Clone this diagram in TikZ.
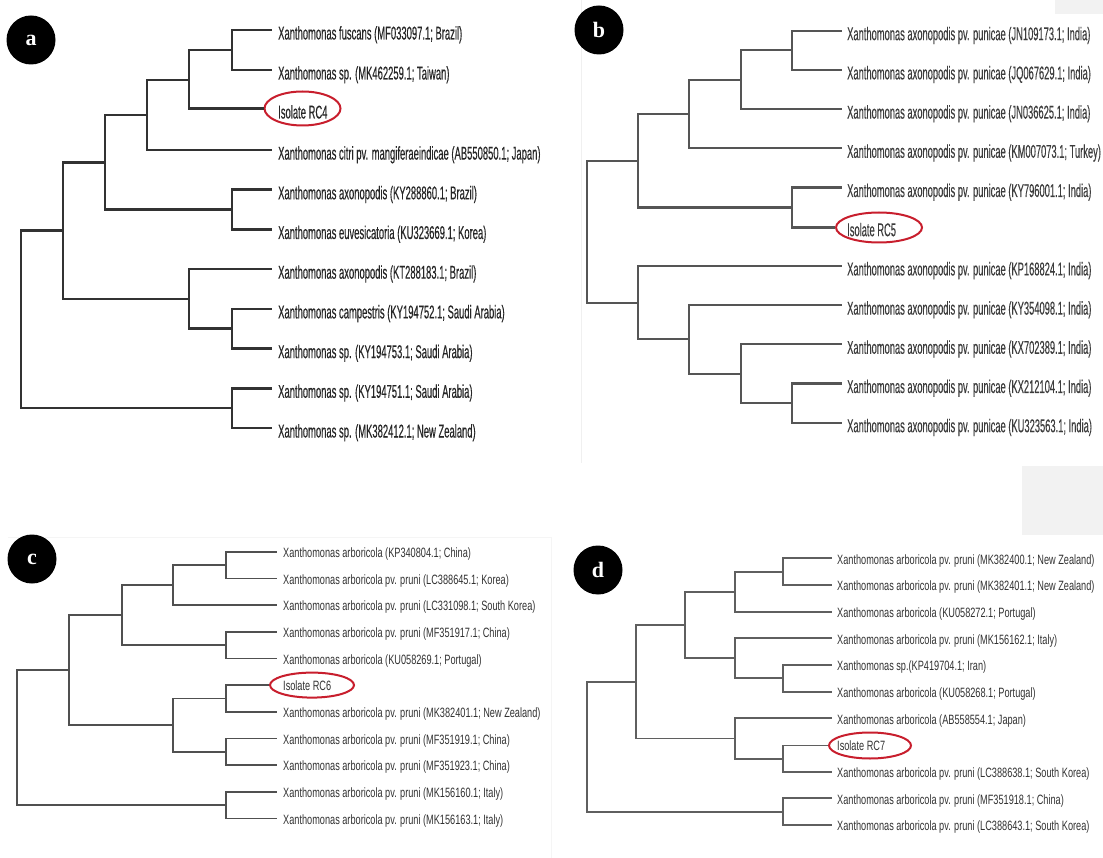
\documentclass[tikz,border=0pt]{standalone}
\usepackage{fontspec}
\setmainfont{Liberation Sans}
\newfontfamily\fA[FakeStretch=0.51,FakeBold=0.3]{Liberation Sans}
\newfontfamily\fB[FakeStretch=0.505,FakeBold=0.2]{Liberation Sans}
\newfontfamily\fC[FakeStretch=0.68]{Liberation Sans}
\newfontfamily\fL{Liberation Serif}
\usetikzlibrary{shapes.geometric}
\definecolor{isored}{RGB}{200,30,45}
\definecolor{txtA}{RGB}{38,38,38}
\definecolor{txtB}{RGB}{60,60,60}
\definecolor{txtC}{RGB}{50,50,50}
\tikzset{
  brA/.style={draw={rgb,255:red,50;green,50;blue,50}, line width=2.6pt},
  brB/.style={draw={rgb,255:red,85;green,85;blue,85}, line width=2.2pt},
  brC/.style={draw={rgb,255:red,80;green,80;blue,80}, line width=1.8pt},
  brD/.style={draw={rgb,255:red,95;green,95;blue,95}, line width=1.8pt},
  lblA/.style={anchor=base west, inner sep=0pt, text=txtA, font=\fA\fontsize{18.5}{18.5}\selectfont},
  lblB/.style={anchor=base west, inner sep=0pt, text=txtB, font=\fB\fontsize{18.5}{18.5}\selectfont},
  lblC/.style={anchor=base west, inner sep=0pt, text=txtC, font=\fC\fontsize{13.5}{13.5}\selectfont},
  badge/.style={circle, fill=black, text=white, minimum size=49pt, inner sep=0pt, font=\fL\bfseries\fontsize{22}{22}\selectfont},
  iso/.style={ellipse, draw=isored, line width=2pt, inner sep=0pt},
}
\begin{document}
\begin{tikzpicture}[x=1pt,y=-1pt]
\useasboundingbox (0,0) rectangle (1103,858);
\fill[white] (0,0) rectangle (1103,858);
\fill[gray!10] (1055,0) rectangle (1103,14);
\fill[gray!10] (1022,466) rectangle (1103,535);
\draw[gray!12, line width=0.8pt] (581,0) -- (581,463);
\draw[gray!8, line width=0.8pt] (8,537) -- (551,537) -- (551,858);

% ---------------- panel a ----------------
\node[badge] (ba) at (31,40) {a};
\coordinate (a1) at (272,30.0);
\coordinate (a2) at (272,70.0);
\node[iso, minimum width=76pt, minimum height=34pt] (ea) at (302.5,108.5) {};
\coordinate (a4) at (272,150.1);
\coordinate (a5) at (272,189.8);
\coordinate (a6) at (272,229.5);
\coordinate (a7) at (272,269.2);
\coordinate (a8) at (272,308.9);
\coordinate (a9) at (272,348.6);
\coordinate (a10) at (272,388.3);
\coordinate (a11) at (272,428.0);
\coordinate (a12) at (232,50.0);
\coordinate (a123) at (189,80.0);
\coordinate (a1234) at (147,115.0);
\coordinate (a56) at (232,209.65);
\coordinate (aA) at (105,162.3);
\coordinate (a89) at (232,328.75);
\coordinate (a789) at (189,299.0);
\coordinate (aB) at (63,230.65);
\coordinate (a1011) at (232,408.15);
\coordinate (aR) at (21,319.4);
\draw[brA] (a12) |- (a1);
\draw[brA] (a12) |- (a2);
\draw[brA] (a123) |- (a12);
\draw[brA] (a123) |- (ea.west);
\draw[brA] (a1234) |- (a123);
\draw[brA] (a1234) |- (a4);
\draw[brA] (a56) |- (a5);
\draw[brA] (a56) |- (a6);
\draw[brA] (aA) |- (a1234);
\draw[brA] (aA) |- (a56);
\draw[brA] (a89) |- (a8);
\draw[brA] (a89) |- (a9);
\draw[brA] (a789) |- (a7);
\draw[brA] (a789) |- (a89);
\draw[brA] (aB) |- (aA);
\draw[brA] (aB) |- (a789);
\draw[brA] (a1011) |- (a10);
\draw[brA] (a1011) |- (a11);
\draw[brA] (aR) |- (aB);
\draw[brA] (aR) |- (a1011);
\node[lblA] (ta1) at (278,39.5) {Xanthomonas fuscans (MF033097.1; Brazil)};
\node[lblA] (ta2) at (278,79.5) {Xanthomonas sp. (MK462259.1; Taiwan)};
\node[lblA] (ta3) at (278,118.5) {Isolate RC4};
\node[lblA] (ta4) at (278,159.6) {Xanthomonas citri pv. mangiferaeindicae (AB550850.1; Japan)};
\node[lblA] (ta5) at (278,199.3) {Xanthomonas axonopodis (KY288860.1; Brazil)};
\node[lblA] (ta6) at (278,239.0) {Xanthomonas euvesicatoria (KU323669.1; Korea)};
\node[lblA] (ta7) at (278,278.7) {Xanthomonas axonopodis (KT288183.1; Brazil)};
\node[lblA] (ta8) at (278,318.4) {Xanthomonas campestris (KY194752.1; Saudi Arabia)};
\node[lblA] (ta9) at (278,358.1) {Xanthomonas sp. (KY194753.1; Saudi Arabia)};
\node[lblA] (ta10) at (278,397.8) {Xanthomonas sp. (KY194751.1; Saudi Arabia)};
\node[lblA] (ta11) at (278,437.5) {Xanthomonas sp. (MK382412.1; New Zealand)};

% ---------------- panel b ----------------
\node[badge] (bb) at (599,30) {b};
\coordinate (b1) at (842,30.7);
\coordinate (b2) at (842,69.9);
\coordinate (b3) at (842,109.1);
\coordinate (b4) at (842,148.3);
\coordinate (b5) at (842,187.5);
\node[iso, minimum width=86pt, minimum height=30pt] (eb) at (879,227.5) {};
\coordinate (b7) at (842,265.9);
\coordinate (b8) at (842,305.1);
\coordinate (b9) at (842,344.3);
\coordinate (b10) at (842,383.5);
\coordinate (b11) at (842,422.7);
\coordinate (b12) at (792,50.3);
\coordinate (b123) at (741,79.7);
\coordinate (b1234) at (689,114.0);
\coordinate (b56) at (792,207.5);
\coordinate (bA) at (638,160.75);
\coordinate (b1011) at (792,403.1);
\coordinate (b911) at (741,373.7);
\coordinate (b811) at (689,339.4);
\coordinate (b711) at (638,302.65);
\coordinate (bR) at (587,231.7);
\draw[brB] (b12) |- (b1);
\draw[brB] (b12) |- (b2);
\draw[brB] (b123) |- (b12);
\draw[brB] (b123) |- (b3);
\draw[brB] (b1234) |- (b123);
\draw[brB] (b1234) |- (b4);
\draw[brB] (b56) |- (b5);
\draw[brB] (b56) |- (eb.west);
\draw[brB] (bA) |- (b1234);
\draw[brB] (bA) |- (b56);
\draw[brB] (b1011) |- (b10);
\draw[brB] (b1011) |- (b11);
\draw[brB] (b911) |- (b9);
\draw[brB] (b911) |- (b1011);
\draw[brB] (b811) |- (b8);
\draw[brB] (b811) |- (b911);
\draw[brB] (b711) |- (b7);
\draw[brB] (b711) |- (b811);
\draw[brB] (bR) |- (bA);
\draw[brB] (bR) |- (b711);
\node[lblB] (tb1) at (847,40.2) {Xanthomonas axonopodis pv. punicae (JN109173.1; India)};
\node[lblB] (tb2) at (847,79.4) {Xanthomonas axonopodis pv. punicae (JQ067629.1; India)};
\node[lblB] (tb3) at (847,118.6) {Xanthomonas axonopodis pv. punicae (JN036625.1; India)};
\node[lblB] (tb4) at (847,157.8) {Xanthomonas axonopodis pv. punicae (KM007073.1; Turkey)};
\node[lblB] (tb5) at (847,197.0) {Xanthomonas axonopodis pv. punicae (KY796001.1; India)};
\node[lblB] (tb6) at (847,236.2) {Isolate RC5};
\node[lblB] (tb7) at (847,275.4) {Xanthomonas axonopodis pv. punicae (KP168824.1; India)};
\node[lblB] (tb8) at (847,314.6) {Xanthomonas axonopodis pv. punicae (KY354098.1; India)};
\node[lblB] (tb9) at (847,353.8) {Xanthomonas axonopodis pv. punicae (KX702389.1; India)};
\node[lblB] (tb10) at (847,393.0) {Xanthomonas axonopodis pv. punicae (KX212104.1; India)};
\node[lblB] (tb11) at (847,432.2) {Xanthomonas axonopodis pv. punicae (KU323563.1; India)};

% ---------------- panel c ----------------
\node[badge] (bc) at (32,559) {c};
\coordinate (c1) at (277,551.7);
\coordinate (c2) at (277,578.4);
\coordinate (c3) at (277,605.0);
\coordinate (c4) at (277,631.7);
\coordinate (c5) at (277,658.4);
\node[iso, minimum width=84pt, minimum height=25pt] (ec) at (312,685.1) {};
\coordinate (c7) at (277,711.7);
\coordinate (c8) at (277,738.4);
\coordinate (c9) at (277,765.1);
\coordinate (c10) at (277,791.7);
\coordinate (c11) at (277,818.4);
\coordinate (c12) at (226,565.05);
\coordinate (c123) at (173,585.0);
\coordinate (c45) at (226,645.05);
\coordinate (c15) at (122,615.0);
\coordinate (c67) at (226,698.4);
\coordinate (c89) at (226,751.75);
\coordinate (c69) at (173,725.1);
\coordinate (cA) at (69,670.05);
\coordinate (c1011) at (226,805.05);
\coordinate (cR) at (17,737.55);
\draw[brC] (c12) |- (c1);
\draw[brC] (c12) |- (c2);
\draw[brC] (c123) |- (c12);
\draw[brC] (c123) |- (c3);
\draw[brC] (c45) |- (c4);
\draw[brC] (c45) |- (c5);
\draw[brC] (c15) |- (c123);
\draw[brC] (c15) |- (c45);
\draw[brC] (c67) |- (ec.west);
\draw[brC] (c67) |- (c7);
\draw[brC] (c89) |- (c8);
\draw[brC] (c89) |- (c9);
\draw[brC] (c69) |- (c67);
\draw[brC] (c69) |- (c89);
\draw[brC] (cA) |- (c15);
\draw[brC] (cA) |- (c69);
\draw[brC] (c1011) |- (c10);
\draw[brC] (c1011) |- (c11);
\draw[brC] (cR) |- (cA);
\draw[brC] (cR) |- (c1011);
\node[lblC] (tc1) at (283,557.5) {Xanthomonas arboricola (KP340804.1; China)};
\node[lblC] (tc2) at (283,584.2) {Xanthomonas arboricola pv. pruni (LC388645.1; Korea)};
\node[lblC] (tc3) at (283,610.8) {Xanthomonas arboricola pv. pruni (LC331098.1; South Korea)};
\node[lblC] (tc4) at (283,637.5) {Xanthomonas arboricola pv. pruni (MF351917.1; China)};
\node[lblC] (tc5) at (283,664.2) {Xanthomonas arboricola (KU058269.1; Portugal)};
\node[lblC] (tc6) at (283,690.9) {Isolate RC6};
\node[lblC] (tc7) at (283,717.5) {Xanthomonas arboricola pv. pruni (MK382401.1; New Zealand)};
\node[lblC] (tc8) at (283,744.2) {Xanthomonas arboricola pv. pruni (MF351919.1; China)};
\node[lblC] (tc9) at (283,770.9) {Xanthomonas arboricola pv. pruni (MF351923.1; China)};
\node[lblC] (tc10) at (283,797.5) {Xanthomonas arboricola pv. pruni (MK156160.1; Italy)};
\node[lblC] (tc11) at (283,824.2) {Xanthomonas arboricola pv. pruni (MK156163.1; Italy)};

% ---------------- panel d ----------------
\node[badge] (bd) at (598,570) {d};
\coordinate (d1) at (832,558.3);
\coordinate (d2) at (832,585.0);
\coordinate (d3) at (832,611.6);
\coordinate (d4) at (832,638.3);
\coordinate (d5) at (832,665.0);
\coordinate (d6) at (832,691.7);
\coordinate (d7) at (832,718.3);
\node[iso, minimum width=82pt, minimum height=26pt] (ed) at (870,745.5) {};
\coordinate (d9) at (832,771.7);
\coordinate (d10) at (832,798.3);
\coordinate (d11) at (832,825.0);
\coordinate (d12) at (783,571.65);
\coordinate (d123) at (735,591.6);
\coordinate (d56) at (783,678.35);
\coordinate (d456) at (735,658.3);
\coordinate (d16) at (685,624.95);
\coordinate (d89) at (783,758.6);
\coordinate (d79) at (735,738.45);
\coordinate (dA) at (636,681.7);
\coordinate (d1011) at (783,811.65);
\coordinate (dR) at (587,746.7);
\draw[brD] (d12) |- (d1);
\draw[brD] (d12) |- (d2);
\draw[brD] (d123) |- (d12);
\draw[brD] (d123) |- (d3);
\draw[brD] (d56) |- (d5);
\draw[brD] (d56) |- (d6);
\draw[brD] (d456) |- (d4);
\draw[brD] (d456) |- (d56);
\draw[brD] (d16) |- (d123);
\draw[brD] (d16) |- (d456);
\draw[brD] (d89) |- (ed.west);
\draw[brD] (d89) |- (d9);
\draw[brD] (d79) |- (d7);
\draw[brD] (d79) |- (d89);
\draw[brD] (dA) |- (d16);
\draw[brD] (dA) |- (d79);
\draw[brD] (d1011) |- (d10);
\draw[brD] (d1011) |- (d11);
\draw[brD] (dR) |- (dA);
\draw[brD] (dR) |- (d1011);
\node[lblC] (td1) at (837,564.1) {Xanthomonas arboricola pv. pruni (MK382400.1; New Zealand)};
\node[lblC] (td2) at (837,590.8) {Xanthomonas arboricola pv. pruni (MK382401.1; New Zealand)};
\node[lblC] (td3) at (837,617.4) {Xanthomonas arboricola (KU058272.1; Portugal)};
\node[lblC] (td4) at (837,644.1) {Xanthomonas arboricola pv. pruni (MK156162.1; Italy)};
\node[lblC] (td5) at (837,670.8) {Xanthomonas sp.(KP419704.1; Iran)};
\node[lblC] (td6) at (837,697.5) {Xanthomonas arboricola (KU058268.1; Portugal)};
\node[lblC] (td7) at (837,724.1) {Xanthomonas arboricola (AB558554.1; Japan)};
\node[lblC] (td8) at (837,750.8) {Isolate RC7};
\node[lblC] (td9) at (837,777.5) {Xanthomonas arboricola pv. pruni (LC388638.1; South Korea)};
\node[lblC] (td10) at (837,804.1) {Xanthomonas arboricola pv. pruni (MF351918.1; China)};
\node[lblC] (td11) at (837,830.8) {Xanthomonas arboricola pv. pruni (LC388643.1; South Korea)};
\end{tikzpicture}
\end{document}
